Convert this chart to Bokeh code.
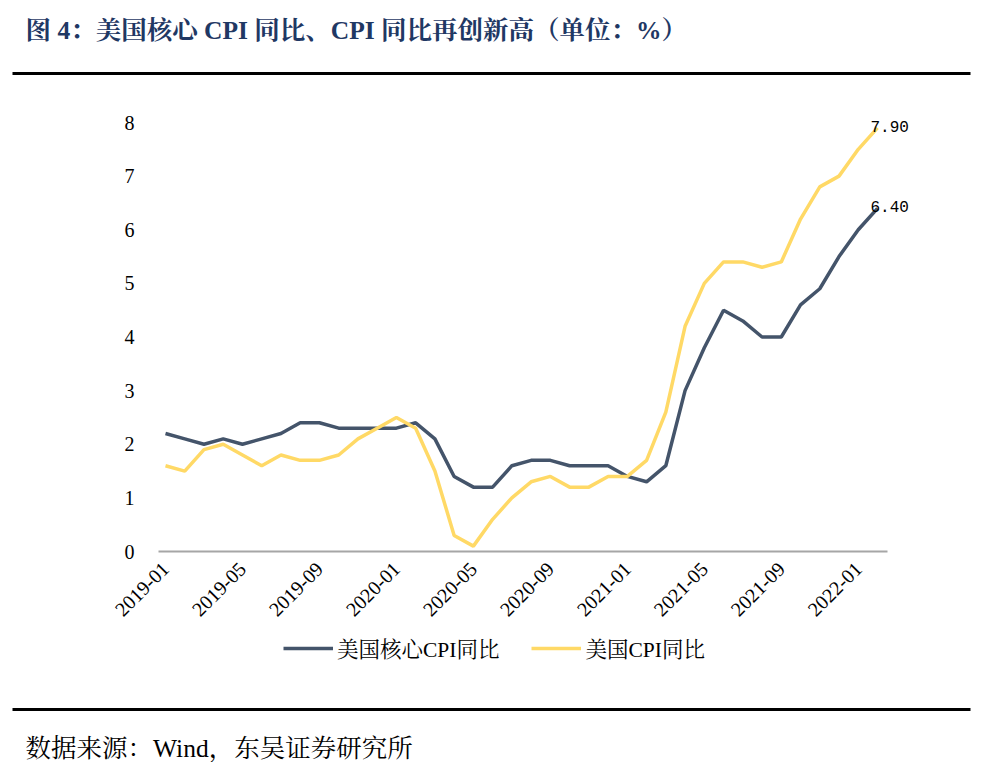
from bokeh.plotting import figure
from bokeh.models import Range1d, FixedTicker, Legend, LegendItem, ColumnDataSource, Label
from bokeh.layouts import column
from bokeh.embed import file_html
from bokeh.resources import INLINE
from bokeh.core.properties import value

months = ["2019-01","2019-02","2019-03","2019-04","2019-05","2019-06","2019-07","2019-08","2019-09","2019-10","2019-11","2019-12",
          "2020-01","2020-02","2020-03","2020-04","2020-05","2020-06","2020-07","2020-08","2020-09","2020-10","2020-11","2020-12",
          "2021-01","2021-02","2021-03","2021-04","2021-05","2021-06","2021-07","2021-08","2021-09","2021-10","2021-11","2021-12",
          "2022-01","2022-02"]
core_cpi = [2.2,2.1,2.0,2.1,2.0,2.1,2.2,2.4,2.4,2.3,2.3,2.3,
            2.3,2.4,2.1,1.4,1.2,1.2,1.6,1.7,1.7,1.6,1.6,1.6,
            1.4,1.3,1.6,3.0,3.8,4.5,4.3,4.0,4.0,4.6,4.9,5.5,
            6.0,6.4]
cpi = [1.6,1.5,1.9,2.0,1.8,1.6,1.8,1.7,1.7,1.8,2.1,2.3,
       2.5,2.3,1.5,0.3,0.1,0.6,1.0,1.3,1.4,1.2,1.2,1.4,
       1.4,1.7,2.6,4.2,5.0,5.4,5.4,5.3,5.4,6.2,6.8,7.0,
       7.5,7.9]
tick_idx = list(range(0, len(months), 4))
y_ticks = [0, 1, 2, 3, 4, 5, 6, 7, 8]

title_text = "图 4：美国核心 CPI 同比、CPI 同比再创新高（单位：%）"
source_text = "数据来源：Wind，东吴证券研究所"
name_core = "美国核心CPI同比"
name_cpi = "美国CPI同比"

SERIF = "Liberation Serif, Times New Roman, Noto Serif CJK SC, Noto Sans CJK SC"
CORE_COLOR = "#44546a"
CPI_COLOR = "#ffd966"
W = 984

# ---------- header ----------
hdr = figure(width=W, height=80, x_range=Range1d(0, W), y_range=Range1d(0, 80),
             output_backend="svg", toolbar_location=None, x_axis_type=None, y_axis_type=None,
             min_border=0, outline_line_color=None, frame_align=False)
hdr.grid.visible = False
hdr.text(x=[25], y=[50], text=[title_text], text_font=value(SERIF), text_font_size="25.5px",
         text_font_style="bold", text_color="#1f3864", text_baseline="middle", text_align="left")
hdr.segment(x0=[12], y0=[7], x1=[970], y1=[7], line_color="black", line_width=3)

# ---------- main chart ----------
last = len(months) - 1
FRAME_L, AXIS_W, FRAME_W = 158, 729, 767       # px: frame start, axis line length, frame width
unit = 712 / last                               # px per month
x_start = -7 / unit
axis_end = x_start + AXIS_W / unit
x_end = x_start + FRAME_W / unit

Y_TOP_PAD = 22                                  # px of extra room above the "8" tick
unit_y = 429 / y_ticks[-1]
y_end = y_ticks[-1] + Y_TOP_PAD / unit_y

x = list(range(len(months)))
src = ColumnDataSource(dict(x=x, core=core_cpi, cpi=cpi))
p = figure(width=W, height=556, x_range=Range1d(x_start, x_end), y_range=Range1d(0, y_end),
           output_backend="svg", toolbar_location=None,
           min_border_left=FRAME_L, min_border_right=W - FRAME_L - FRAME_W,
           min_border_top=42 - Y_TOP_PAD, min_border_bottom=85,
           outline_line_color=None, frame_align=False)
p.grid.visible = False
r1 = p.line("x", "core", source=src, line_color=CORE_COLOR, line_width=3.5)
r2 = p.line("x", "cpi", source=src, line_color=CPI_COLOR, line_width=3.5)

for val in (cpi[last], core_cpi[last]):
    p.add_layout(Label(x=last, y=val, text=f"{val:.2f}", text_font="Liberation Mono",
                       text_font_size="16px", text_color="black", text_baseline="bottom",
                       text_align="left", x_offset=-7, y_offset=-4))

p.yaxis.ticker = FixedTicker(ticks=y_ticks)
p.yaxis.axis_line_color = None
p.yaxis.major_tick_line_color = None
p.yaxis.minor_tick_line_color = None
p.yaxis.major_label_text_font = SERIF
p.yaxis.major_label_text_font_size = "20px"
p.yaxis.major_label_text_color = "black"
p.yaxis.major_label_standoff = 18

p.xaxis.ticker = FixedTicker(ticks=tick_idx)
p.xaxis.bounds = (x_start, axis_end)
p.xaxis.major_label_overrides = {i: months[i] for i in tick_idx}
p.xaxis.major_label_orientation = 0.785
p.xaxis.axis_line_color = "#a6a6a6"
p.xaxis.axis_line_width = 2
p.xaxis.major_tick_line_color = None
p.xaxis.minor_tick_line_color = None
p.xaxis.major_label_text_font = SERIF
p.xaxis.major_label_text_font_size = "20px"
p.xaxis.major_label_text_color = "black"
p.xaxis.major_label_standoff = 8

# ---------- bottom: legend, rule, source ----------
ftr = figure(width=W, height=126, x_range=Range1d(0, W), y_range=Range1d(0, 126),
             output_backend="svg", toolbar_location=None, x_axis_type=None, y_axis_type=None,
             min_border=0, outline_line_color=None, frame_align=False)
ftr.grid.visible = False
k1 = ftr.line("x", "core", source=src, line_color=CORE_COLOR, line_width=3.5, visible=False)
k2 = ftr.line("x", "cpi", source=src, line_color=CPI_COLOR, line_width=3.5, visible=False)
legend = Legend(items=[LegendItem(label=name_core, renderers=[k1]),
                       LegendItem(label=name_cpi, renderers=[k2])],
                location=(283, 99), orientation="horizontal", click_policy="none",
                inactive_fill_alpha=0,
                border_line_color=None, background_fill_alpha=0,
                padding=0, margin=0, spacing=32, glyph_width=50, label_standoff=4,
                label_text_font=SERIF, label_text_font_size="21.5px", label_text_color="black")
ftr.add_layout(legend, "center")
ftr.segment(x0=[12], y0=[53], x1=[970], y1=[53], line_color="black", line_width=3)
ftr.text(x=[25], y=[14], text=[source_text], text_font=value(SERIF), text_font_size="25.5px",
         text_color="black", text_baseline="middle", text_align="left")

layout = column(hdr, p, ftr, spacing=0)
open("out.html", "w").write(file_html(layout, INLINE))
